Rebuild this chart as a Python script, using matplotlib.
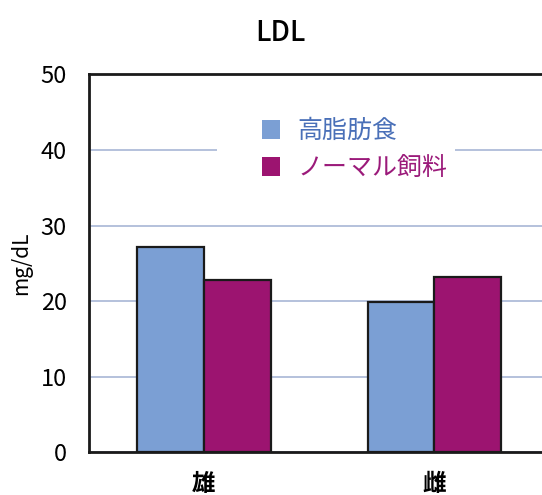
import numpy as np
import matplotlib.pyplot as plt
from matplotlib.patches import Patch, Rectangle

plt.rcParams['font.family'] = ['Noto Sans CJK JP', 'DejaVu Sans']

groups = ['雄', '雌']
series = ['高脂肪食', 'ノーマル飼料']
high_fat = [27.2, 19.9]
normal = [22.8, 23.2]
yticks = [0, 10, 20, 30, 40, 50]

blue = '#7b9fd4'
purple = '#9c1470'
text_colors = ['#4a70b8', '#9b1a7a']

fig = plt.figure(figsize=(5.42, 4.95), dpi=100)
ax = fig.add_axes([0.164, 0.086, 0.85, 0.764])

x = np.arange(len(groups))
w = 0.29
ax.bar(x - w / 2, high_fat, w, color=blue, edgecolor='#1a1a1a', linewidth=1.6, zorder=3)
ax.bar(x + w / 2, normal, w, color=purple, edgecolor='#1a1a1a', linewidth=1.6, zorder=3)

ax.set_xlim(-0.5, 1.5)
ax.set_ylim(0, 50)
ax.set_yticks(yticks)
ax.set_xticks(x)
ax.set_xticklabels(groups, fontsize=15, fontweight='bold')
ax.tick_params(axis='both', length=0, labelsize=17)
ax.tick_params(axis='y', pad=16)
ax.tick_params(axis='x', pad=14)
ax.yaxis.grid(True, color='#a8b6d6', linewidth=1.2, zorder=0)
ax.set_axisbelow(True)

for side in ['left', 'top', 'bottom']:
    ax.spines[side].set_linewidth(2)
    ax.spines[side].set_color('#1a1a1a')
ax.spines['right'].set_visible(False)

ax.set_ylabel('mg/dL', fontsize=15, labelpad=6)
fig.text(0.517, 0.935, 'LDL', ha='center', va='center', fontsize=20, fontweight='medium')

# white box behind the legend hides the 40 gridline
ax.add_patch(Rectangle((0.400, 0.606), 0.439, 0.192, transform=fig.transFigure,
                       facecolor='white', edgecolor='none', zorder=4))

handles = [Patch(facecolor=blue, edgecolor='none'), Patch(facecolor=purple, edgecolor='none')]
leg = ax.legend(handles, series, loc='upper left', bbox_to_anchor=(0.483, 0.762),
                bbox_transform=fig.transFigure, frameon=False, fontsize=18,
                handlelength=0.72, handleheight=0.8, handletextpad=0.72,
                labelspacing=0.45, borderpad=0, borderaxespad=0)
for t, c in zip(leg.get_texts(), text_colors):
    t.set_color(c)
leg.set_zorder(5)

fig.savefig('out.png', dpi=100)
